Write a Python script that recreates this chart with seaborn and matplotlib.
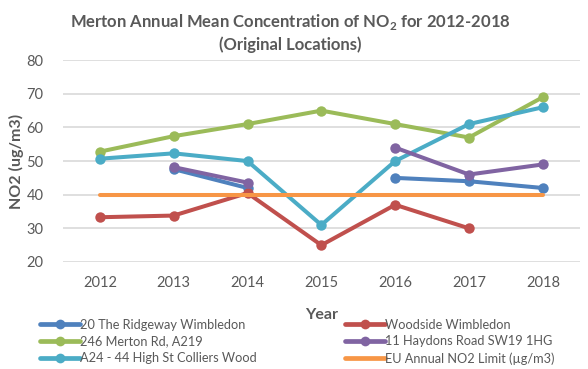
import numpy as np
import pandas as pd
import matplotlib
matplotlib.use("Agg")
import matplotlib.pyplot as plt
import seaborn as sns

years = [2012, 2013, 2014, 2015, 2016, 2017, 2018]
ridgeway = [np.nan, 47.6, 42.0, np.nan, 45.0, 44.0, 42.0]
woodside = [33.3, 33.8, 40.5, 25.0, 37.0, 30.0, np.nan]
merton_rd = [52.8, 57.4, 61.0, 65.0, 61.0, 57.0, 69.0]
haydons = [np.nan, 48.2, 43.6, np.nan, 54.0, 46.0, 49.0]
high_st = [50.7, 52.3, 50.0, 31.0, 50.0, 61.0, 66.0]
eu_limit = [40, 40, 40, 40, 40, 40, 40]

series_names = ["20 The Ridgeway Wimbledon", "246 Merton Rd, A219",
                "A24 - 44 High St Colliers Wood", "Woodside Wimbledon",
                "11 Haydons Road SW19 1HG", "EU Annual NO2 Limit (µg/m3)"]
series_vals = [ridgeway, merton_rd, high_st, woodside, haydons, eu_limit]
colors = ["#4F81BD", "#9BBB59", "#4BACC6", "#C0504D", "#8064A2", "#F79646"]
has_marker = [True, True, True, True, True, False]

sns.set_theme(style="white")
plt.rcParams['font.family'] = ['Lato', 'DejaVu Sans']
plt.rcParams['mathtext.fontset'] = 'custom'
plt.rcParams['mathtext.rm'] = 'Lato'
plt.rcParams['mathtext.bf'] = 'Lato:bold'

fig = plt.figure(figsize=(5.88, 3.69), dpi=100)
ax = fig.add_axes([0.107, 0.29, 0.879, 0.547])

grey_text = "#595959"
handles = []
for name, vals, col, mk in zip(series_names, series_vals, colors, has_marker):
    df = pd.DataFrame({"x": np.arange(len(years)), "y": vals})
    df["seg"] = df["y"].isna().cumsum()
    df = df.dropna()
    for s, sub in df.groupby("seg"):
        sns.lineplot(data=sub, x="x", y="y", ax=ax, color=col, linewidth=2.9,
                     marker="o" if mk else None, markersize=7.5 if mk else 0,
                     markeredgewidth=0, estimator=None, legend=False)
    h, = ax.plot([], [], color=col, linewidth=3.4, marker="o" if mk else None,
                 markersize=7, markeredgewidth=0)
    handles.append(h)

ax.set_xlim(-0.5, len(years) - 0.5)
ax.set_ylim(20, 80)
ax.set_yticks([20, 30, 40, 50, 60, 70, 80])
ax.set_xticks(np.arange(len(years)))
ax.set_xticklabels([str(y) for y in years])
ax.grid(axis="y", color="#D9D9D9", linewidth=1.2)
ax.set_axisbelow(True)
for sp in ax.spines.values():
    sp.set_visible(False)
ax.tick_params(axis="both", length=0, labelsize=10.5, labelcolor=grey_text)
ax.tick_params(axis="y", pad=14)
ax.tick_params(axis="x", pad=10)

ax.set_ylabel("NO2 (ug/m3)", fontsize=11.5, fontweight="bold", color=grey_text, labelpad=2)
ax.set_xlabel("Year", fontsize=11.5, fontweight="bold", color=grey_text, labelpad=13)

fig.text(0.493, 0.94, r"Merton Annual Mean Concentration of NO$_\mathbf{2}$ for 2012-2018",
         ha="center", va="center", fontsize=12, fontweight="bold", color=grey_text)
fig.text(0.493, 0.878, "(Original Locations)", ha="center", va="center",
         fontsize=12, fontweight="bold", color=grey_text)

leg_kw = dict(loc="upper left", frameon=False, fontsize=9.2, handlelength=3.1,
              handletextpad=0.05, labelspacing=0.36, borderaxespad=0, borderpad=0,
              labelcolor=grey_text)
leg1 = fig.legend(handles[:3], series_names[:3], bbox_to_anchor=(40 / 588, 0.136), **leg_kw)
leg2 = fig.legend(handles[3:], series_names[3:], bbox_to_anchor=(345 / 588, 0.136), **leg_kw)

fig.savefig("out.png", dpi=100)
